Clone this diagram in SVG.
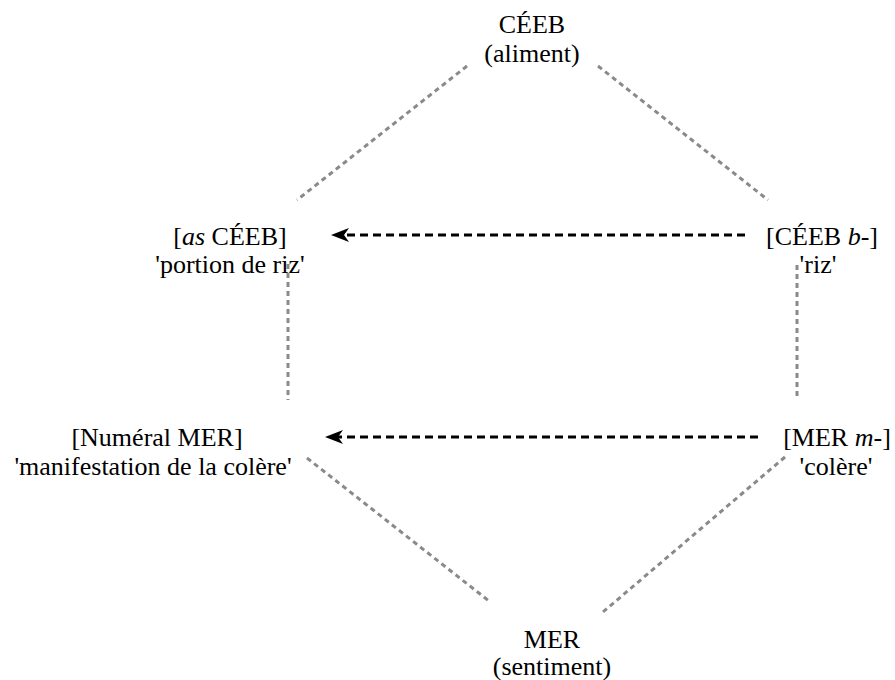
<svg xmlns="http://www.w3.org/2000/svg" width="895" height="680" viewBox="0 0 895 680">
<style>
.t{font-family:'Liberation Serif','Times New Roman',serif;font-size:26px;fill:#000;text-anchor:middle}
.g{stroke:#8a8a8a;stroke-width:3;stroke-dasharray:5 4;fill:none}
.b{stroke:#000;stroke-width:3;stroke-dasharray:8 5;fill:none}
</style>
<defs>
<marker id="ah" viewBox="0 0 18 14" refX="6" refY="7" markerWidth="18" markerHeight="14" markerUnits="userSpaceOnUse" orient="auto">
<path d="M0,0 L18,7 L0,14 L5,7 Z" fill="#000"/>
</marker>
</defs>
<g id="connectors">
<line class="g" x1="467" y1="66" x2="297" y2="200"/>
<line class="g" x1="598" y1="66" x2="768" y2="200"/>
<line class="g" x1="288" y1="264" x2="288" y2="400"/>
<line class="g" x1="797" y1="265" x2="797" y2="399"/>
<line class="g" x1="307" y1="458" x2="489" y2="601"/>
<line class="g" x1="785" y1="457" x2="603" y2="612"/>
<line class="b" x1="745" y1="235" x2="343" y2="235" marker-end="url(#ah)"/>
<line class="b" x1="758" y1="437" x2="337" y2="437" marker-end="url(#ah)"/>
</g>
<g class="t" font-family="Liberation Serif, Times New Roman, serif" font-size="26">
<g id="n-ceeb"><text x="532" y="33">CÉEB</text><text x="532" y="62">(aliment)</text></g>
<g id="n-as-ceeb"><text x="230" y="245">[<tspan font-style="italic">as</tspan> CÉEB]</text><text x="230" y="273">'portion de riz'</text></g>
<g id="n-ceeb-b"><text x="822" y="245">[CÉEB <tspan font-style="italic">b</tspan>-]</text><text x="818" y="273">'riz'</text></g>
<g id="n-numeral-mer"><text x="157" y="446">[Numéral MER]</text><text x="153" y="475">'manifestation de la colère'</text></g>
<g id="n-mer-m"><text x="837" y="446">[MER <tspan font-style="italic">m</tspan>-]</text><text x="836" y="475">'colère'</text></g>
<g id="n-mer"><text x="552" y="648">MER</text><text x="552" y="675">(sentiment)</text></g>
</g>
</svg>
